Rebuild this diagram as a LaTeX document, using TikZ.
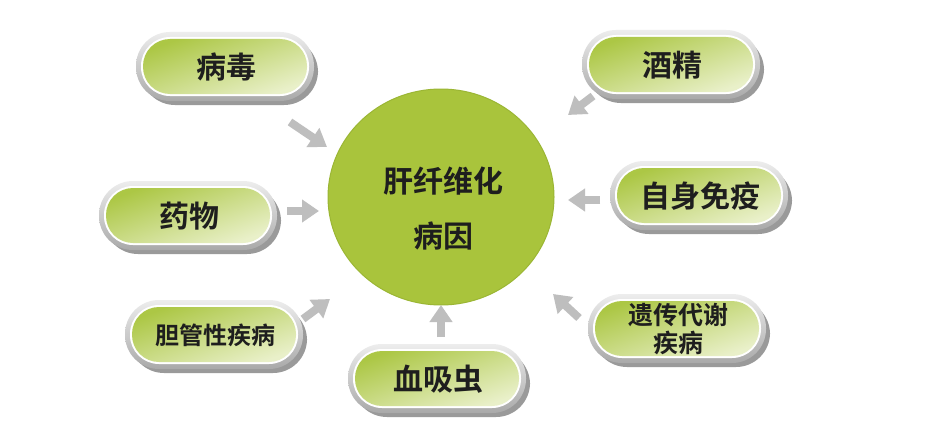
\documentclass[tikz,border=0pt]{standalone}
\usepackage{fontspec}
\newfontfamily\cjk{Noto Sans CJK SC}[BoldFont={Noto Sans CJK SC Bold}]
\usetikzlibrary{arrows.meta,calc}
\definecolor{ballgreen}{HTML}{A9C43C}
\definecolor{balledge}{HTML}{9BB634}
\definecolor{pilltop}{HTML}{ACC745}
\definecolor{pillbot}{HTML}{E9F0C9}
\definecolor{rimlight}{HTML}{EDEDED}
\definecolor{rimdark}{HTML}{A9A9A9}
\definecolor{shadowgray}{HTML}{9A9A9A}
\definecolor{arrowgray}{HTML}{BEBEBE}
\definecolor{txt}{HTML}{1E1E1E}
\tikzset{
  label text/.style={font=\cjk\bfseries, text=txt, inner sep=0pt, align=center},
  blockarrow/.style={draw=arrowgray, line width=8pt, -{Triangle[length=17pt,width=22pt]}},
}
% \pillbox{name}{cx}{cy}{text}{fontsize}
\newcommand\pillbox[5]{%
  \fill[shadowgray, rounded corners=34pt] ($(#2,#3)+(-88,-33)+(3,4)$) rectangle ($(#2,#3)+(88,34)+(4,4)$);
  \shade[top color=rimlight, bottom color=rimdark, rounded corners=34pt] ($(#2,#3)+(-90,-35)$) rectangle ($(#2,#3)+(88,34)$);
  \fill[white, rounded corners=29pt] ($(#2,#3)+(-85,-30)$) rectangle ($(#2,#3)+(83,29)$);
  \shade[top color=pilltop, bottom color=pillbot, shading angle=20, rounded corners=27pt] ($(#2,#3)+(-83,-28)$) rectangle ($(#2,#3)+(81,27)$);
  \node[label text, font=\cjk\bfseries\fontsize{#5}{#5}\selectfont] (#1) at (#2,#3) {#4};%
}
\begin{document}
\begin{tikzpicture}[x=1pt,y=-1pt]
\useasboundingbox (0,0) rectangle (928,444);
\fill[white] (0,0) rectangle (928,444);

% centre ball
\fill[ballgreen] (441,197) ellipse [x radius=113, y radius=108];
\draw[balledge, line width=1pt] (441,197) ellipse [x radius=113, y radius=108];
\node[label text, font=\cjk\bfseries\fontsize{30}{30}\selectfont] (c1) at (443,181) {肝纤维化};
\node[label text, font=\cjk\bfseries\fontsize{30}{30}\selectfont] (c2) at (443,236) {病因};
\coordinate (c) at (441,197);

\pillbox{virus}{226}{67}{病毒}{30}
\pillbox{alcohol}{672}{65}{酒精}{30}
\pillbox{drug}{189}{216}{药物}{30}
\pillbox{autoimm}{700}{196}{自身免疫}{30}
\pillbox{bile}{215}{335}{胆管性疾病}{24}
\pillbox{genetic}{678}{329}{遗传代谢\\[3pt]疾病}{25}
\pillbox{schisto}{438}{379}{血吸虫}{30}

% arrows
\coordinate (a1s) at (290,122); \coordinate (a1e) at (327,147);
\coordinate (a2s) at (287,211); \coordinate (a2e) at (319,211);
\coordinate (a3s) at (303,319); \coordinate (a3e) at (330,299);
\coordinate (a4s) at (441,337); \coordinate (a4e) at (441,305);
\coordinate (a5s) at (579,318); \coordinate (a5e) at (553,294);
\coordinate (a6s) at (600,200); \coordinate (a6e) at (568,200);
\coordinate (a7s) at (593,96);  \coordinate (a7e) at (568,115);
\draw[blockarrow] (a1s) -- (a1e);
\draw[blockarrow] (a2s) -- (a2e);
\draw[blockarrow] (a3s) -- (a3e);
\draw[blockarrow] (a4s) -- (a4e);
\draw[blockarrow] (a5s) -- (a5e);
\draw[blockarrow] (a6s) -- (a6e);
\draw[blockarrow] (a7s) -- (a7e);
\end{tikzpicture}
\end{document}
